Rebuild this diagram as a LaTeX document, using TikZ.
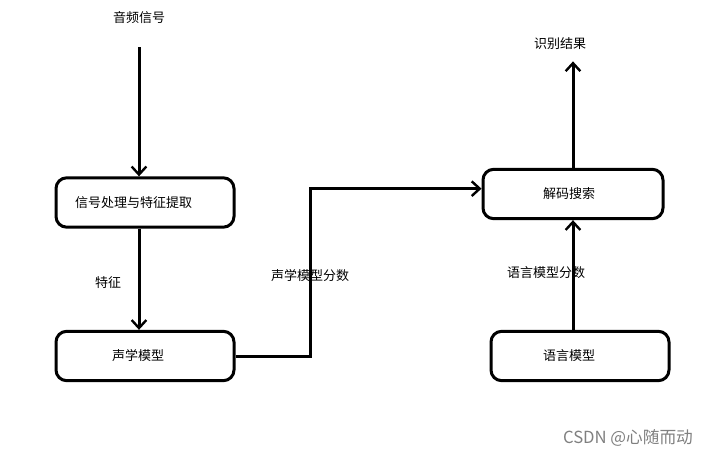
\documentclass[tikz,border=0pt]{standalone}
\usepackage{fontspec}
\newfontfamily\cjk{Noto Sans CJK SC}
\usepackage{tikz}
\usetikzlibrary{arrows.meta,positioning}

\begin{document}
\begin{tikzpicture}
[	x=0.75pt, y=-0.75pt,
	every node/.style = {font=\cjk\fontsize{9.75}{11}\selectfont},
	box/.style = {draw, rounded corners=8pt, line width=2.25pt, minimum height=37pt, align=left},
	arr/.style = {line width=2.25pt, -{Straight Barb[length=6pt,width=11pt,line width=1.8pt]}}
]
\useasboundingbox (0,0) rectangle (711,456);

\node (audio) at (139,18) {音频信号};
\node[box, inner xsep=14.25pt, text width=105pt](sigproc) at (145,202.5) {信号处理与特征提取};
\node[box, inner xsep=42pt, text width=49.5pt](acoustic) at (145,356) {声学模型};
\node[box, inner xsep=45pt, text width=45pt](decoder) at (573,194) {解码搜索};
\node[box, inner xsep=39pt, text width=55.5pt](langmodel) at (580,356) {语言模型};
\node (result) at (560,44) {识别结果};

\node (feat) at (108,283) {特征};
\node (amscore) at (310,276) {声学模型分数};
\node (lmscore) at (546,273) {语言模型分数};
\node[text=gray, font=\fontsize{12.5}{14}\selectfont\cjk] (mark) at (628,438) {CSDN @心随而动};

\draw[arr, shorten <=14pt] (audio) -- (audio |- sigproc.north);
\draw[arr] (sigproc.south -| audio) -- (acoustic.north -| audio);
\draw[arr] (acoustic.east) -- ++(75,0) |- ([yshift=4pt]decoder.west);
\draw[arr] (decoder.south |- langmodel.north) -- (decoder.south);
\draw[arr] (decoder.north) -- ([yshift=-5pt]decoder.north |- result.south);

\end{tikzpicture}
\end{document}
